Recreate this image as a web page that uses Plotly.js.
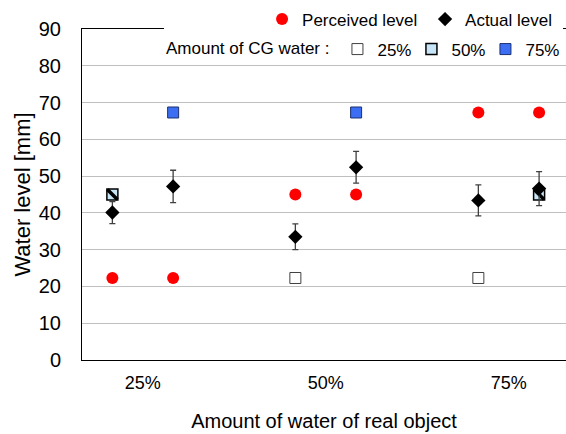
<!DOCTYPE html>
<html>
<head>
<meta charset="utf-8">
<script src="https://cdn.plot.ly/plotly-3.0.1.min.js"></script>
<style>html,body{margin:0;padding:0;background:#fff;}#chart{width:566px;height:434px;}</style>
</head>
<body>
<div id="chart"></div>
<script>
// ---- data ----
var realCategories = ['25%', '50%', '75%'];
var cgCategories = ['25%', '50%', '75%'];
// each measurement: real object amount, CG water amount
var realAmount = ['25%', '25%', '50%', '50%', '75%', '75%'];
var cgAmount   = ['50%', '75%', '25%', '75%', '25%', '50%'];
var perceivedLevel = [22.3, 22.3, 45.0, 45.0, 67.3, 67.3];
var actualLevel    = [40.1, 47.2, 33.5, 52.4, 43.4, 46.6];
var actualError    = [3.0, 4.4, 3.5, 4.3, 4.2, 4.6];
var cgLevel        = [45.0, 67.3, 22.3, 67.3, 22.3, 45.0];
var yTicks = [0, 10, 20, 30, 40, 50, 60, 70, 80, 90];

// ---- positions: two slots per real-object category ----
var slotOffset = 0.166;
var xPos = [];
var seen = {};
for (var i = 0; i < realAmount.length; i++) {
  var c = realCategories.indexOf(realAmount[i]);
  var s = seen[c] || 0; seen[c] = s + 1;
  xPos.push(c + (s === 0 ? -slotOffset : slotOffset));
}
function pick(arr, cg) {
  var xs = [], ys = [];
  for (var i = 0; i < arr.length; i++) if (cgAmount[i] === cg) { xs.push(xPos[i]); ys.push(arr[i]); }
  return {x: xs, y: ys};
}

var FONT = 'Liberation Sans, Arial, sans-serif';
var sq25 = pick(cgLevel, '25%'), sq50 = pick(cgLevel, '50%'), sq75 = pick(cgLevel, '75%');

var traces = [
  {type: 'scatter', mode: 'markers', name: cgCategories[0], legend: 'legend2', x: sq25.x, y: sq25.y,
   marker: {symbol: 'square', size: 11, color: '#ffffff', line: {color: '#404040', width: 1}}},
  {type: 'scatter', mode: 'markers', name: cgCategories[1], legend: 'legend2', x: sq50.x, y: sq50.y,
   marker: {symbol: 'square', size: 11, color: '#c6e6f7', line: {color: '#000000', width: 1.5}}},
  {type: 'scatter', mode: 'markers', name: cgCategories[1], showlegend: false, x: sq50.x, y: sq50.y,
   marker: {symbol: 'line-nw', size: 10, color: '#000000', line: {color: '#000000', width: 3.5}}},
  {type: 'scatter', mode: 'markers', name: cgCategories[2], legend: 'legend2', x: sq75.x, y: sq75.y,
   marker: {symbol: 'square', size: 11, color: '#3b6ef2', line: {color: '#1c3170', width: 1}}},
  {type: 'scatter', mode: 'markers', name: 'Perceived level', legend: 'legend', x: xPos, y: perceivedLevel,
   marker: {symbol: 'circle', size: 12, color: '#ff0000'}},
  {type: 'scatter', mode: 'markers', name: 'Actual level', legend: 'legend', x: xPos, y: actualLevel,
   error_y: {type: 'data', array: actualError, visible: true, color: '#404040', thickness: 1.3, width: 3},
   marker: {symbol: 'diamond', size: 11, color: '#000000'}}
];

var layout = {
  width: 566, height: 434,
  margin: {l: 82, r: 0, t: 29, b: 73.5, autoexpand: false},
  paper_bgcolor: '#ffffff', plot_bgcolor: '#ffffff',
  font: {family: FONT, color: '#000000', size: 17},
  xaxis: {
    range: [-0.332, 2.313], tickvals: [0, 1, 2], ticktext: realCategories,
    showgrid: false, zeroline: false, showline: true, linecolor: '#000000', linewidth: 1,
    mirror: true, ticks: '', ticklabelstandoff: 6,
    tickfont: {family: FONT, size: 18, color: '#000000'},
    title: {text: 'Amount of water of real object', font: {family: FONT, size: 20, color: '#000000'}, standoff: 22}
  },
  yaxis: {
    range: [0, 90], tickvals: yTicks, showgrid: true, gridcolor: '#bfbfbf', gridwidth: 1,
    zeroline: false, showline: true, linecolor: '#000000', linewidth: 1, ticks: '', ticklabelstandoff: 16,
    tickfont: {family: FONT, size: 20, color: '#000000'},
    title: {text: 'Water level [mm]', font: {family: FONT, size: 22, color: '#000000'}, standoff: 2}
  },
  showlegend: true,
  legend: {
    orientation: 'h', x: 0.372, xanchor: 'left', y: 1.0286, yanchor: 'middle',
    entrywidth: 118, entrywidthmode: 'pixels',
    bgcolor: 'rgba(255,255,255,0)', borderwidth: 0, font: {family: FONT, size: 17, color: '#000000'},
    itemclick: false, tracegroupgap: 0
  },
  legend2: {
    orientation: 'h', x: 0.1694, xanchor: 'left', y: 0.938, yanchor: 'middle',
    entrywidth: 29, entrywidthmode: 'pixels',
    bgcolor: 'rgba(255,255,255,0)', borderwidth: 0, font: {family: FONT, size: 17, color: '#000000'},
    title: {text: 'Amount of CG water :', side: 'left', font: {family: FONT, size: 17, color: '#000000'}},
    itemclick: false
  },
  shapes: [
    {type: 'rect', xref: 'paper', yref: 'paper', x0: 0.1694, x1: 0.9938, y0: 0.899, y1: 1.01,
     fillcolor: '#ffffff', line: {width: 0}, layer: 'above'}
  ]
};

Plotly.newPlot('chart', traces, layout, {staticPlot: true, displayModeBar: false});
</script>
</body>
</html>
